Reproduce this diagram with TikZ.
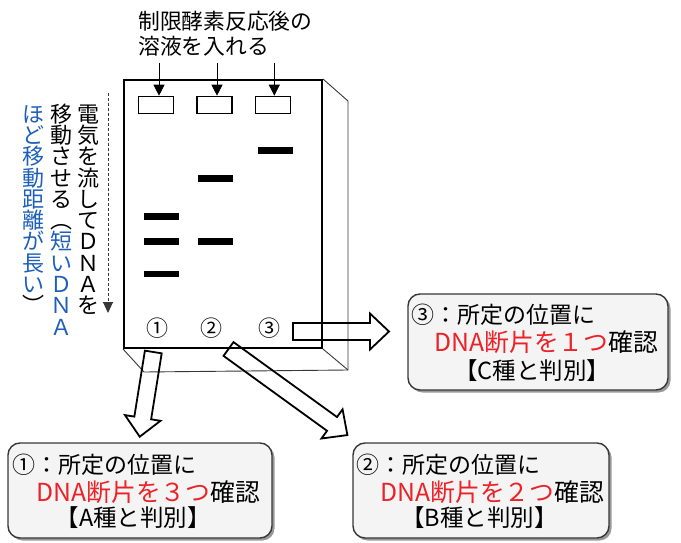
\documentclass[tikz,border=0pt]{standalone}
\usepackage{fontspec}
\setmainfont{Noto Sans CJK JP}
\usetikzlibrary{arrows.meta,shadows,calc}

\definecolor{txtblue}{RGB}{30,95,185}
\definecolor{txtred}{RGB}{235,35,40}
\definecolor{boxfill}{RGB}{244,244,244}
\definecolor{edgegray}{RGB}{55,55,55}

\tikzset{
  geledge/.style={draw=black, line width=2pt, inner sep=0pt},
  backedge/.style={draw=edgegray, line width=0.9pt},
  wellbox/.style={draw=black, line width=1.6pt, minimum width=35pt, minimum height=17pt, inner sep=0pt},
  wellarrow/.style={draw=black, line width=0.9pt, -{Triangle[length=11pt,width=11pt]}},
  band/.style={fill=black, minimum width=35pt, minimum height=6.6pt, inner sep=0pt},
  lanelabel/.style={font=\fontsize{22}{22}\selectfont, inner sep=0pt},
  vchar/.style={font=\fontsize{22}{22}\selectfont, inner sep=0pt, text height=0.88em, text depth=0.12em},
  titletext/.style={font=\fontsize{21.8}{21.8}\selectfont, inner sep=0pt, anchor=base west},
  hollow/.style={draw=black, line width=1.8pt, line join=miter},
  pics/hollowarrow/.style={code={
    \draw[hollow] (0,-8.5) -- (#1-19,-8.5) -- (#1-19,-18) -- (#1,0)
      -- (#1-19,18) -- (#1-19,8.5) -- (0,8.5) -- cycle;}},
  result/.style={draw=edgegray, line width=1.4pt, rounded corners=12pt, fill=boxfill,
    inner sep=0pt,
    drop shadow={shadow xshift=2.5pt, shadow yshift=-2.5pt, fill=black, opacity=0.4}},
  line1/.style={font=\fontsize{23}{23}\selectfont, inner sep=0pt, anchor=base west},
  line2/.style={font=\fontsize{24.8}{24.8}\selectfont, inner sep=0pt, anchor=base west},
  line3/.style={font=\fontsize{23.5}{23.5}\selectfont, inner sep=0pt, anchor=base},
}

\begin{document}
\begin{tikzpicture}[x=1pt, y=-1pt]
\useasboundingbox (0,0) rectangle (681,543);

% heading above the wells
\node[titletext] (title1) at (138,30) {制限酵素反応後の};
\node[titletext] (title2) at (138,55) {溶液を入れる};

% gel slab: hidden depth edges, then the front face
\node[geledge, minimum width=198pt, minimum height=268pt] (gel) at (223,214) {};
\draw[backedge] (gel.north east) -- ++(25,22) coordinate (bk1)
  -- ++(0,269) coordinate (bk2) -- ($(gel.south west)+(21,23)$) coordinate (bk3)
  -- (gel.south west);
\draw[backedge] (gel.south east) -- (bk2);

% wells and loading arrows
\node[wellbox] (well1) at (156,105) {};
\node[wellbox] (well2) at (214.5,105) {};
\node[wellbox] (well3) at (273,105) {};
\coordinate (in1) at (159,63);
\coordinate (in2) at (217,63);
\coordinate (in3) at (274.3,63);
\draw[wellarrow] (in1) -- (in1 |- well1.north);
\draw[wellarrow] (in2) -- (in2 |- well2.north);
\draw[wellarrow] (in3) -- (in3 |- well3.north);

% DNA bands
\node[band] (b11) at (161.7,216.7) {};
\node[band] (b12) at (161.7,241.3) {};
\node[band] (b13) at (161.7,274) {};
\node[band] (b21) at (215,178.7) {};
\node[band] (b22) at (215,241.3) {};
\node[band] (b31) at (275.7,150.7) {};

% lane numbers
\node[lanelabel] (lane1) at (157.7,328.3) {①};
\node[lanelabel] (lane2) at (211.7,328.3) {②};
\node[lanelabel] (lane3) at (269.3,328.3) {③};

% direction of migration
\coordinate (mig1) at (108,93);
\coordinate (mig2) at (108,313);
\draw[draw=edgegray, line width=0.9pt, dash pattern=on 3pt off 2pt,
  -{Triangle[length=11pt,width=10pt]}] (mig1) -- (mig2);

% vertical caption, three columns read right to left
\foreach \ch/\cl [count=\i from 0] in
  {電/black,気/black,を/black,流/black,し/black,て/black,Ｄ/black,Ｎ/black,Ａ/black,を/black}
  \node[vchar, text=\cl] (va\i) at (88,{118.3+\i*21.3}) {\ch};
\foreach \ch/\cl [count=\i from 0] in
  {移/black,動/black,さ/black,せ/black,る/black,︵/black,短/txtblue,い/txtblue,Ｄ/txtblue,Ｎ/txtblue,Ａ/txtblue}
  \node[vchar, text=\cl] (vb\i) at (61.5,{118.3+\i*21.3}) {\ch};
\foreach \ch/\cl [count=\i from 0] in
  {ほ/txtblue,ど/txtblue,移/txtblue,動/txtblue,距/txtblue,離/txtblue,が/txtblue,長/txtblue,い/txtblue,︶/black}
  \node[vchar, text=\cl] (vc\i) at (33,{118.3+\i*21.3}) {\ch};

% result boxes
\node[result, minimum width=264pt, minimum height=95pt] (boxA) at (140,490.5) {};
\node[result, minimum width=256pt, minimum height=95pt] (boxB) at (481,490.5) {};
\node[result, minimum width=260pt, minimum height=96pt] (boxC) at (538,342) {};

\node[line1] (a1) at ($(boxA.north west)+(5,31.5)$) {①：所定の位置に};
\node[line2, text=txtred] (a2) at ($(boxA.north west)+(29,59)$) {DNA断片を３つ\textcolor{black}{確認}};
\node[line3] (a3) at ($(boxA.north west)+(126,84.5)$) {【A種と判別】};

\node[line1] (bb1) at ($(boxB.north west)+(4,31.5)$) {②：所定の位置に};
\node[line2, text=txtred] (bb2) at ($(boxB.north west)+(28,59)$) {DNA断片を２つ\textcolor{black}{確認}};
\node[line3] (bb3) at ($(boxB.north west)+(127,84.5)$) {【B種と判別】};

\node[line1] (c1) at ($(boxC.north west)+(4,30)$) {③：所定の位置に};
\node[line2, text=txtred] (c2) at ($(boxC.north west)+(27,58)$) {DNA断片を１つ\textcolor{black}{確認}};
\node[line3] (c3) at ($(boxC.north west)+(125,86)$) {【C種と判別】};

% hollow arrows from the lanes to the result boxes
\coordinate (arA) at (153.3,352);
\coordinate (arB) at (228.5,349);
\coordinate (arC) at (293,331.5);
\pic[rotate=-99.1] at (arA) {hollowarrow=85.8};
\pic[rotate=-35.9] at (arB) {hollowarrow=146.8};
\pic at (arC) {hollowarrow=96};
\end{tikzpicture}
\end{document}
